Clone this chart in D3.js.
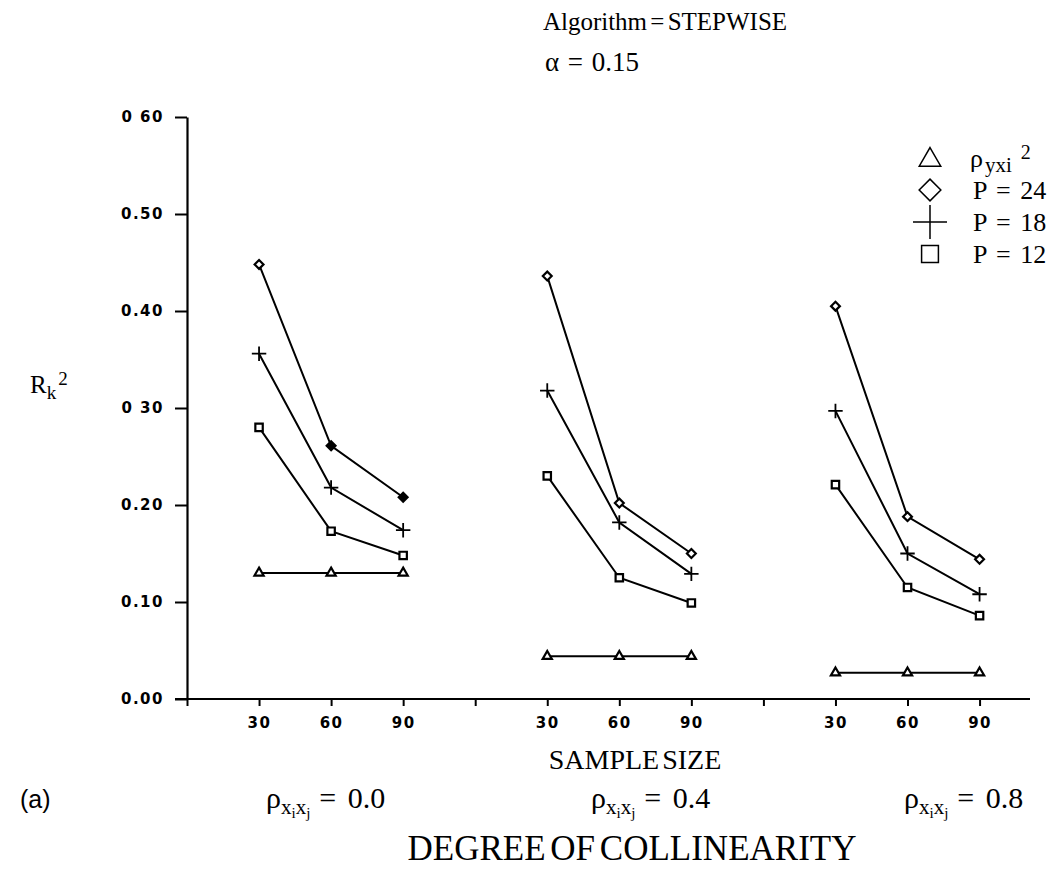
<!DOCTYPE html>
<html>
<head>
<meta charset="utf-8">
<script src="https://cdn.jsdelivr.net/npm/d3@7"></script>
<style>
  body { margin: 0; background: #fff; }
  svg { display: block; }
  .tickfont { font-family: "DejaVu Sans", sans-serif; font-weight: bold; font-size: 15px; letter-spacing: 1.5px; }
  .serif { font-family: "Liberation Serif", "Times New Roman", serif; }
</style>
</head>
<body>
<svg id="chart" width="1054" height="869"></svg>
<script>
// values (R_k^2 per collinearity group, sample sizes 30/60/90)
var sampleSizes = ['30', '60', '90'];
var collinearity = ['0.0', '0.4', '0.8'];
var yTickValues = [0, 0.1, 0.2, 0.3, 0.4, 0.5, 0.6];
var yTickLabels = ['0.00', '0.10', '0.20', '0 30', '0.40', '0.50', '0 60'];

var rhoYxi = [[0.130, 0.130, 0.130], [0.044, 0.044, 0.044], [0.027, 0.027, 0.027]];
var p24 = [[0.448, 0.261, 0.208], [0.436, 0.202, 0.150], [0.405, 0.188, 0.144]];
var p18 = [[0.356, 0.218, 0.174], [0.318, 0.182, 0.129], [0.297, 0.150, 0.108]];
var p12 = [[0.280, 0.173, 0.148], [0.230, 0.125, 0.099], [0.221, 0.115, 0.086]];

var svg = d3.select('#chart');

// x is a slot index: 0 = origin, then 30/60/90 and an empty slot per group
var x = d3.scaleLinear().domain([0, 11.7]).range([187, 1030]);
var y = d3.scaleLinear().domain([0, 0.6]).range([699, 117]);

function slot(g, i) { return 1 + g * 4 + i; }

var xTickValues = d3.range(0, 12);
var xTickLabels = xTickValues.map(function(v) {
  var k = (v - 1) % 4;
  return (v === 0 || k === 3) ? '' : sampleSizes[k];
});

///////////////////////////////////////////////////////////////////////////////
// AXES
var yAxis = svg.append('g')
  .attr('transform', 'translate(' + x(0) + ',0)')
  .call(d3.axisLeft(y)
    .tickValues(yTickValues)
    .tickFormat(function(d, i) { return yTickLabels[i]; })
    .tickSize(12)
    .tickPadding(11)
    .tickSizeOuter(0));

var xAxis = svg.append('g')
  .attr('transform', 'translate(0,' + y(0) + ')')
  .call(d3.axisBottom(x)
    .tickValues(xTickValues)
    .tickFormat(function(d, i) { return xTickLabels[i]; })
    .tickSize(7)
    .tickPadding(11)
    .tickSizeOuter(0));

[yAxis, xAxis].forEach(function(ax) {
  ax.select('.domain').attr('stroke', '#000').attr('stroke-width', 2.2);
  ax.selectAll('.tick line').attr('stroke', '#000').attr('stroke-width', 2);
  ax.selectAll('.tick text').attr('class', 'tickfont').attr('fill', '#000');
});
// x axis starts a little left of the y axis like the original
xAxis.select('.domain').attr('d', 'M' + (x(0) - 12) + ',0H' + x(11.7));

///////////////////////////////////////////////////////////////////////////////
// SERIES
var series = [
  {values: rhoYxi, symbol: d3.symbolTriangle2, size: 60},
  {values: p24, symbol: d3.symbolDiamond2, size: 50},
  {values: p18, symbol: d3.symbolPlus, size: 70},
  {values: p12, symbol: d3.symbolSquare2, size: 70}
];

var line = d3.line()
  .x(function(d) { return x(d.s); })
  .y(function(d) { return y(d.v); });

series.forEach(function(sr, si) {
  sr.values.forEach(function(vals, g) {
    var pts = vals.map(function(v, i) { return {s: slot(g, i), v: v, g: g, i: i}; });
    svg.append('path')
      .datum(pts)
      .attr('d', line)
      .attr('fill', 'none')
      .attr('stroke', '#000')
      .attr('stroke-width', 2);
    svg.selectAll(null)
      .data(pts)
      .enter()
      .append('path')
      .attr('d', d3.symbol().type(sr.symbol).size(sr.size))
      .attr('transform', function(d) { return 'translate(' + x(d.s) + ',' + y(d.v) + ')'; })
      // scan makes the first group's later diamonds look solid
      .attr('fill', function(d) { return (si === 1 && d.g === 0 && d.i > 0) ? '#000' : '#fff'; })
      .attr('stroke', '#000')
      .attr('stroke-width', si === 2 ? 1.8 : 2.2);
  });
});

///////////////////////////////////////////////////////////////////////////////
// LEGEND
var legendY = [160, 190, 222, 254];
var legendSizes = [330, 300, 380, 360];
series.forEach(function(sr, i) {
  svg.append('path')
    .attr('d', d3.symbol().type(sr.symbol).size(legendSizes[i]))
    .attr('transform', 'translate(930,' + legendY[i] + ')')
    .attr('fill', 'none')
    .attr('stroke', '#000')
    .attr('stroke-width', 1.5);
});
var legendText = svg.append('g').attr('class', 'serif').attr('font-size', 26);
var t0 = legendText.append('text').attr('x', 970).attr('y', legendY[0] + 7);
t0.append('tspan').text('ρ');
t0.append('tspan').attr('font-size', 21).attr('dy', 5).attr('dx', 2).text('yxi');
t0.append('tspan').attr('font-size', 20).attr('dy', -13).attr('dx', 9).text('2');
['P = 24', 'P = 18', 'P = 12'].forEach(function(s, i) {
  legendText.append('text').attr('x', 973).attr('y', legendY[i + 1] + 9)
    .attr('word-spacing', 3).text(s);
});

///////////////////////////////////////////////////////////////////////////////
// TEXT
var txt = svg.append('g').attr('class', 'serif').attr('fill', '#000');
txt.append('text').attr('x', 665).attr('y', 30).attr('text-anchor', 'middle')
  .attr('font-size', 25).attr('word-spacing', -3).text('Algorithm = STEPWISE');
txt.append('text').attr('x', 592).attr('y', 71).attr('text-anchor', 'middle')
  .attr('font-size', 27).attr('word-spacing', 2).text('α = 0.15');

var rk = txt.append('text').attr('x', 30).attr('y', y(0.315)).attr('font-size', 25);
rk.append('tspan').text('R');
rk.append('tspan').attr('font-size', 19).attr('dy', 6).text('k');
rk.append('tspan').attr('font-size', 19).attr('dy', -14).attr('dx', 2).text('2');

txt.append('text').attr('x', 635).attr('y', 769).attr('text-anchor', 'middle')
  .attr('font-size', 28).attr('word-spacing', -4).text('SAMPLE SIZE');
txt.append('text').attr('x', 632).attr('y', 860).attr('text-anchor', 'middle')
  .attr('font-size', 35).attr('word-spacing', -4).text('DEGREE OF COLLINEARITY');

svg.append('text').attr('x', 20).attr('y', 808)
  .attr('font-family', 'Liberation Sans, Arial, sans-serif').attr('font-size', 25).text('(a)');

// left edges of the three collinearity captions
var captionX = [266, 591, 904];
collinearity.forEach(function(c, g) {
  var t = txt.append('text').attr('x', captionX[g]).attr('y', 808).attr('font-size', 30);
  t.append('tspan').text('ρ');
  t.append('tspan').attr('font-size', 21).attr('dy', 6).text('x');
  t.append('tspan').attr('font-size', 15).attr('dy', 4).text('i');
  t.append('tspan').attr('font-size', 21).attr('dy', -4).text('x');
  t.append('tspan').attr('font-size', 15).attr('dy', 4).text('j');
  t.append('tspan').attr('dy', -10).attr('dx', 9).attr('word-spacing', 4).text('= ' + c);
});
</script>
</body>
</html>
